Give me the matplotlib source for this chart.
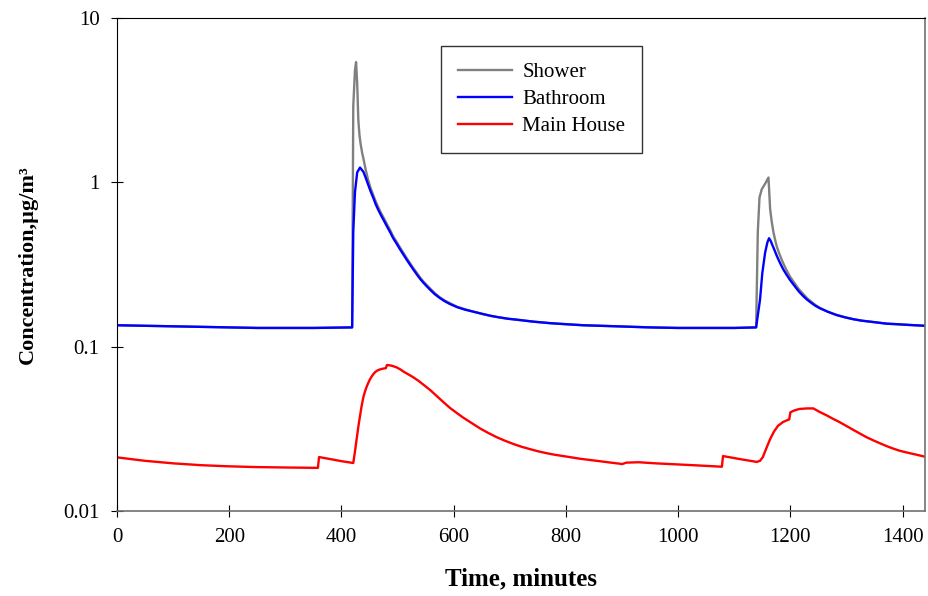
import matplotlib
matplotlib.use("Agg")
import matplotlib.pyplot as plt

# values (time in minutes, concentration in ug/m3)
bath_t = [0, 50, 100, 150, 200, 250, 300, 350, 419, 421, 424, 428, 433, 439, 443, 447,
          452, 457, 461, 466, 470, 475, 481, 487, 492, 498, 504, 510, 516, 522, 528, 534,
          540, 546, 552, 558, 566, 575, 584, 593, 606, 620, 636, 652, 666, 680, 696, 712,
          742, 772, 800, 831, 861, 891, 920, 950, 1000, 1050, 1100, 1139, 1146, 1150, 1155,
          1159, 1162, 1165, 1168, 1172, 1176, 1180, 1184, 1188, 1193, 1200, 1208, 1215,
          1223, 1230, 1238, 1245, 1253, 1267, 1282, 1297, 1312, 1327, 1342, 1357, 1372,
          1390, 1405, 1422, 1440]
bath_c = [0.135, 0.134, 0.133, 0.132, 0.131, 0.130, 0.130, 0.130, 0.131, 0.50, 0.87, 1.15,
          1.23, 1.16, 1.07, 0.98, 0.88, 0.80, 0.735, 0.675, 0.635, 0.59, 0.54, 0.495, 0.458,
          0.425, 0.393, 0.365, 0.339, 0.316, 0.295, 0.276, 0.259, 0.245, 0.233, 0.222,
          0.209, 0.198, 0.189, 0.182, 0.174, 0.168, 0.163, 0.158, 0.154, 0.151, 0.148,
          0.146, 0.142, 0.139, 0.137, 0.135, 0.134, 0.133, 0.132, 0.131, 0.130, 0.130,
          0.130, 0.131, 0.194, 0.28, 0.373, 0.43, 0.457, 0.44, 0.415, 0.385, 0.356, 0.332,
          0.311, 0.293, 0.275, 0.253, 0.233, 0.217, 0.203, 0.193, 0.184, 0.177, 0.171,
          0.163, 0.156, 0.151, 0.147, 0.144, 0.142, 0.140, 0.138, 0.137, 0.136, 0.135, 0.134]

shower_t = [0, 50, 100, 150, 200, 250, 300, 350, 419, 421, 424, 426, 428, 430, 432, 434,
            437, 439, 443, 447, 452, 457, 461, 466, 470, 475, 481, 487, 492, 498, 504, 510,
            516, 522, 528, 534, 540, 546, 552, 558, 566, 575, 584, 593, 606, 620, 636, 652,
            666, 680, 696, 712, 742, 772, 800, 831, 861, 891, 920, 950, 1000, 1050, 1100,
            1139, 1142, 1145, 1149, 1155, 1161, 1164, 1167, 1170, 1173, 1176, 1180, 1184,
            1188, 1193, 1200, 1208, 1215, 1223, 1230, 1238, 1245, 1253, 1267, 1282, 1297,
            1312, 1327, 1342, 1357, 1372, 1390, 1405, 1422, 1440]
shower_c = [0.135, 0.134, 0.133, 0.132, 0.131, 0.130, 0.130, 0.130, 0.131, 2.9, 4.8, 5.39,
            4.0, 2.4, 1.95, 1.72, 1.50, 1.40, 1.20, 1.05, 0.92, 0.83, 0.765, 0.70, 0.655,
            0.61, 0.557, 0.51, 0.47, 0.436, 0.403, 0.374, 0.347, 0.323, 0.301, 0.282, 0.264,
            0.249, 0.237, 0.226, 0.212, 0.200, 0.191, 0.184, 0.175, 0.169, 0.163, 0.158,
            0.154, 0.151, 0.148, 0.146, 0.142, 0.139, 0.137, 0.135, 0.134, 0.133, 0.132,
            0.131, 0.130, 0.130, 0.130, 0.131, 0.5, 0.807, 0.907, 0.98, 1.07, 0.685, 0.57,
            0.494, 0.445, 0.405, 0.37, 0.342, 0.318, 0.293, 0.265, 0.242, 0.224, 0.209,
            0.197, 0.187, 0.179, 0.172, 0.163, 0.156, 0.151, 0.147, 0.144, 0.142, 0.140,
            0.138, 0.137, 0.136, 0.135, 0.134]

house_t = [0, 50, 100, 150, 200, 250, 300, 358, 360, 380, 400, 421, 424, 427, 430, 433,
           436, 439, 442, 445, 448, 451, 454, 457, 460, 463, 467, 471, 475, 479, 481, 486,
           490, 498, 505, 512, 520, 528, 538, 548, 559, 570, 581, 593, 605, 617, 632, 647,
           662, 677, 691, 706, 721, 736, 750, 765, 780, 795, 810, 825, 840, 855, 875, 896,
           900, 908, 930, 960, 1000, 1040, 1078, 1080, 1110, 1140, 1146, 1151, 1157, 1164,
           1171, 1178, 1187, 1196, 1198, 1200, 1204, 1208, 1212, 1217, 1230, 1241, 1252,
           1264, 1276, 1288, 1300, 1312, 1324, 1336, 1348, 1360, 1372, 1383, 1396, 1410,
           1425, 1440]
house_c = [0.0212, 0.0202, 0.0195, 0.0190, 0.0187, 0.0185, 0.0184, 0.0183, 0.0213, 0.0207,
           0.0201, 0.0196, 0.0230, 0.0274, 0.0325, 0.0378, 0.0438, 0.0493, 0.0535, 0.0572,
           0.0605, 0.0635, 0.0660, 0.0682, 0.0700, 0.0713, 0.0724, 0.0731, 0.0736, 0.0740,
           0.0773, 0.0770, 0.0765, 0.0749, 0.0727, 0.0700, 0.0676, 0.0651, 0.0617, 0.0580,
           0.0541, 0.0500, 0.0462, 0.0425, 0.0396, 0.0370, 0.0343, 0.0318, 0.0298, 0.0281,
           0.0268, 0.0256, 0.0246, 0.0238, 0.0231, 0.0225, 0.0220, 0.0216, 0.0212, 0.0208,
           0.0205, 0.0202, 0.0198, 0.0194, 0.0193, 0.0197, 0.0198, 0.0195, 0.0192, 0.0189,
           0.0186, 0.0216, 0.0207, 0.0199, 0.0202, 0.0213, 0.0240, 0.0274, 0.0305, 0.0330,
           0.0348, 0.0359, 0.0361, 0.0398, 0.0405, 0.0410, 0.0414, 0.0418, 0.0421, 0.0421,
           0.0401, 0.0383, 0.0364, 0.0347, 0.0329, 0.0312, 0.0296, 0.0281, 0.0269, 0.0258,
           0.0248, 0.0240, 0.0232, 0.0226, 0.0220, 0.0214]

xticks = [0, 200, 400, 600, 800, 1000, 1200, 1400]
yticks = [0.01, 0.1, 1, 10]
ylabels = ["0.01", "0.1", "1", "10"]

plt.rcParams["font.family"] = ["Liberation Serif", "DejaVu Serif"]

fig = plt.figure(figsize=(9.29, 5.96), dpi=100)
ax = fig.add_axes([0.126, 0.1426, 0.8697, 0.8272])

ax.plot(shower_t, shower_c, color="#808080", lw=1.7, label="Shower")
ax.plot(bath_t, bath_c, color="#0000ff", lw=1.7, label="Bathroom")
ax.plot(house_t, house_c, color="#ff0000", lw=1.7, label="Main House")

ax.set_yscale("log")
ax.set_xlim(0, 1440)
ax.set_ylim(0.01, 10)
ax.set_xticks(xticks)
ax.set_xticklabels([str(x) for x in xticks])
ax.set_yticks(yticks)
ax.set_yticklabels(ylabels)
ax.minorticks_off()
ax.tick_params(direction="inout", length=9, width=0.8, labelsize=15, pad=8)

for s in ["left", "top"]:
    ax.spines[s].set_color("black")
for s in ["right", "bottom"]:
    ax.spines[s].set_color("#707070")
    ax.spines[s].set_linewidth(1.2)

ax.set_xlabel("Time, minutes", fontsize=18, fontweight="bold", labelpad=14)
ax.set_ylabel("Concentration,µg/m³", fontsize=16, fontweight="bold", labelpad=18)

leg = ax.legend(loc="upper left", bbox_to_anchor=(0.401, 0.943), fontsize=15,
                frameon=True, fancybox=False, edgecolor="black", handlelength=2.6,
                borderpad=0.8, labelspacing=0.35, handletextpad=0.5, borderaxespad=0)
leg.get_frame().set_linewidth(1.0)

plt.savefig("out.png", dpi=100)
